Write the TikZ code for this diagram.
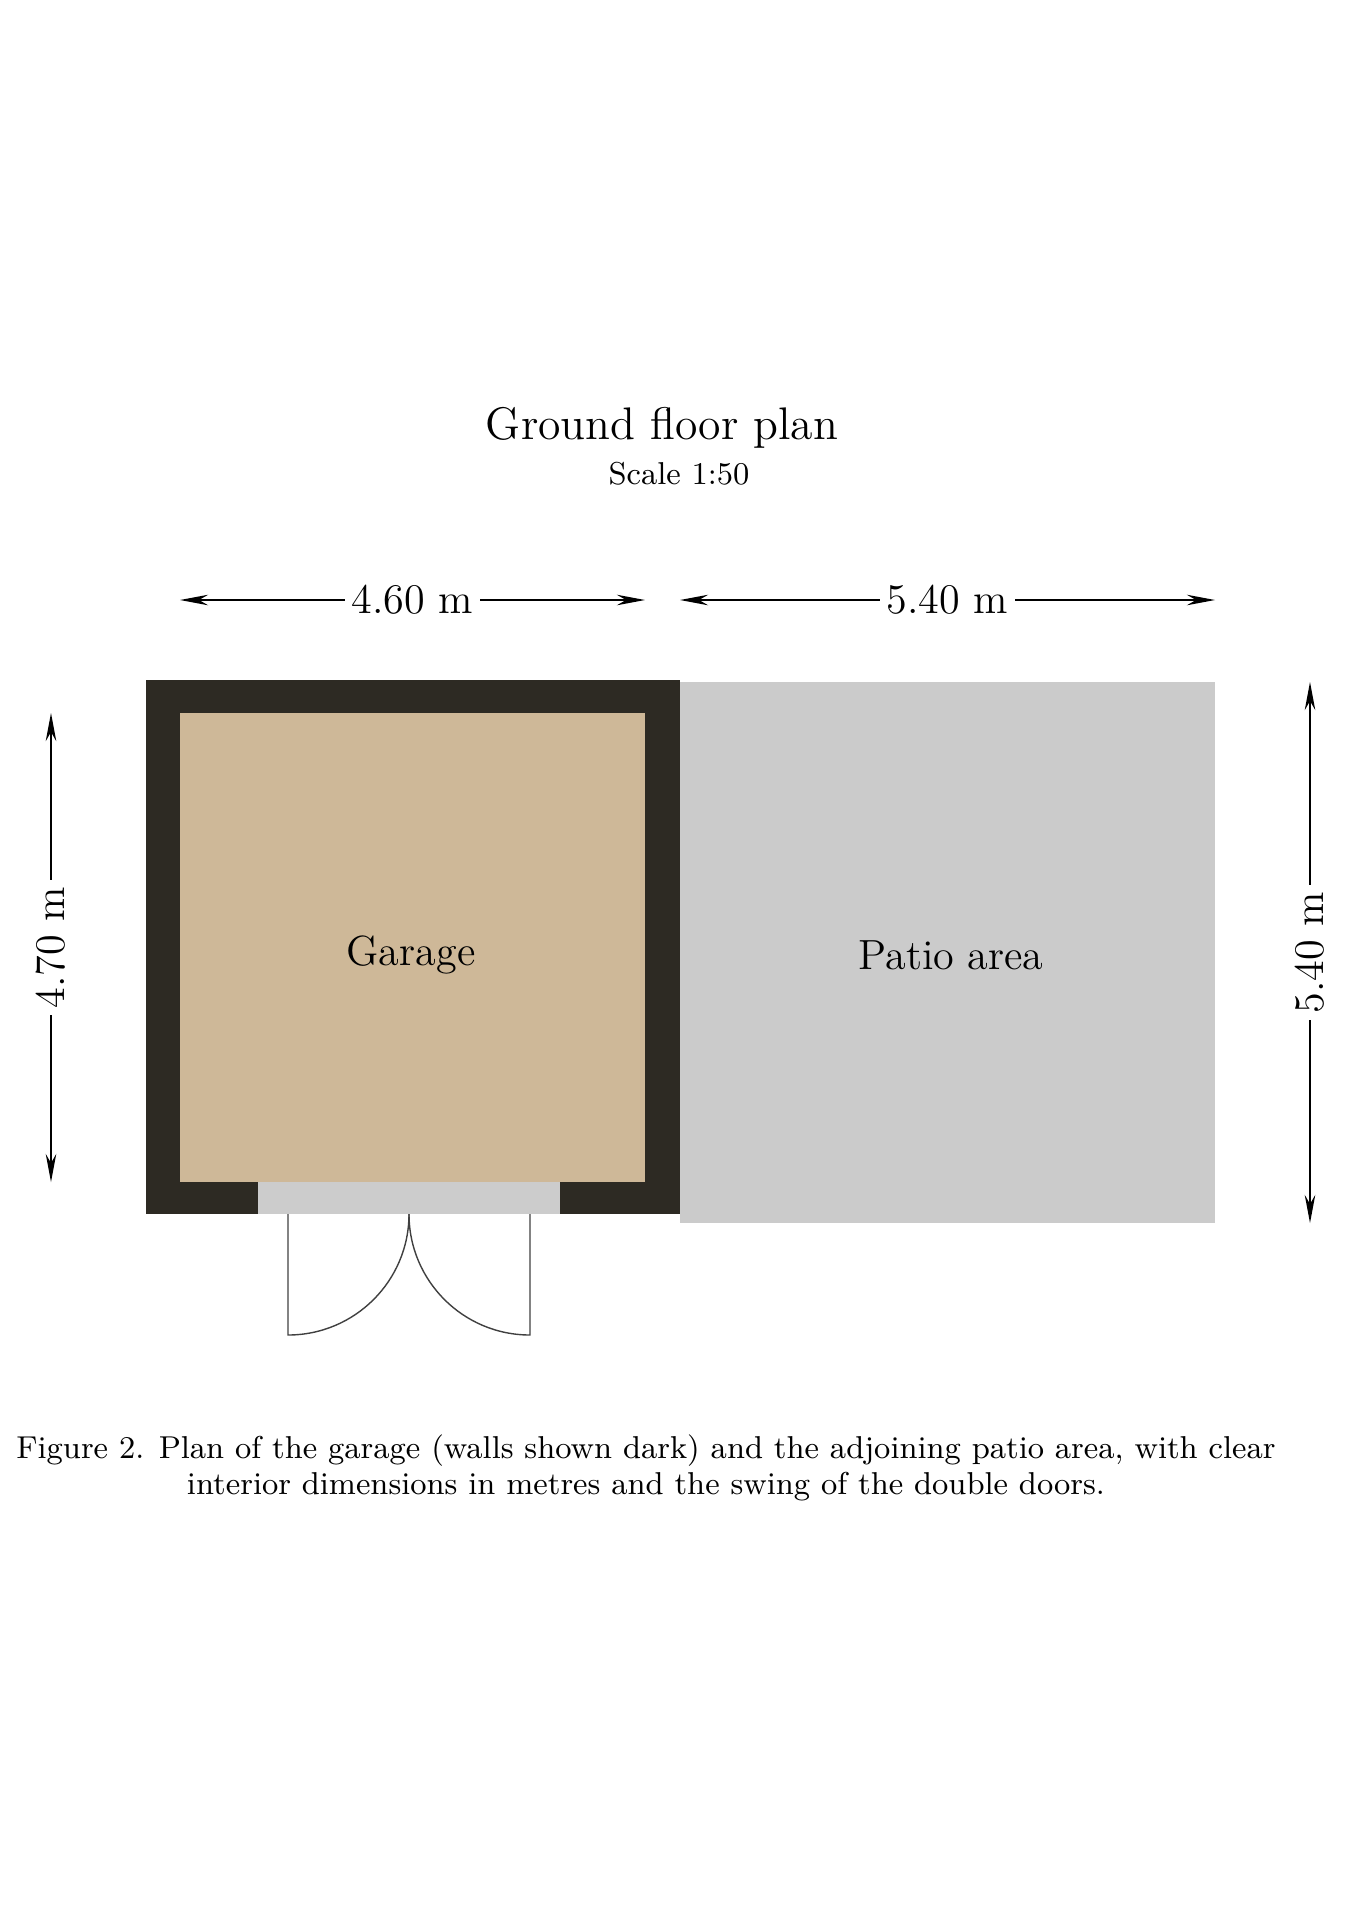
\documentclass[tikz,border=0pt]{standalone}
\usepackage{tikz}
\usetikzlibrary{arrows.meta}

\definecolor{roomtan}{RGB}{206,184,152}
\definecolor{walldark}{RGB}{45,42,35}
\definecolor{patiogrey}{RGB}{203,203,203}

\begin{document}
\begin{tikzpicture}[x=0.1mm, y=-0.1mm,
        dimline/.style={{Stealth[length=8pt,width=3pt]}-{Stealth[length=8pt,width=3pt]}, line width=0.4pt},
        dimlabel/.style={fill=white, inner sep=2pt, font=\fontsize{12}{14}\selectfont},
        roomlabel/.style={font=\fontsize{12}{14}\selectfont},
        doorline/.style={line width=0.4pt, black!75}]
        \useasboundingbox (0,0) rectangle (1358,1920);

        % Patio
        \fill[patiogrey] (680,682) rectangle (1215,1223);

        % Garage: walls, floor, door opening
        \fill[walldark] (146,680) rectangle (680,1214);
        \fill[roomtan] (180,713) rectangle (645,1182);
        \fill[black!20] (258,1182) rectangle (560,1214);

        % Door leaves and swings
        \coordinate (hingeL) at (288,1214);
        \coordinate (hingeR) at (530,1214);
        \coordinate (leafL) at (288,1335);
        \coordinate (leafR) at (530,1335);
        \draw[doorline] (hingeL) -- (leafL) arc[start angle=90, end angle=0, radius=121];
        \draw[doorline] (hingeR) -- (leafR) arc[start angle=90, end angle=180, radius=121];

        \node[roomlabel] (garage) at (411,955) {Garage};
        \node[roomlabel] (patio) at (951,955) {Patio area};

        % Dimensions
        \coordinate (gtopL) at (180,600);
        \coordinate (gtopR) at (645,600);
        \coordinate (ptopL) at (680,600);
        \coordinate (ptopR) at (1215,600);
        \coordinate (gsideT) at (51,713);
        \coordinate (gsideB) at (51,1182);
        \coordinate (psideT) at (1310,682);
        \coordinate (psideB) at (1310,1223);

        \draw[dimline] (gtopL) -- (gtopR) node[midway, dimlabel] (gwidth) {4.60 m};
        \draw[dimline] (ptopL) -- (ptopR) node[midway, dimlabel] (pwidth) {5.40 m};
        \draw[dimline] (gsideB) -- (gsideT) node[midway, dimlabel, rotate=90] (gdepth) {4.70 m};
        \draw[dimline] (psideB) -- (psideT) node[midway, dimlabel, rotate=90] (pdepth) {5.40 m};

        % Title and caption
        \node[font=\fontsize{13}{16}\selectfont] (title) at (662,428) {Ground floor plan};
        \node[font=\fontsize{9}{11}\selectfont] (scalenote) at (679,474) {Scale 1:50};
        \node[align=center, font=\fontsize{9}{10.2}\selectfont] (caption) at (646,1468)
            {Figure 2. Plan of the garage (walls shown dark) and the adjoining patio area, with clear\\
             interior dimensions in metres and the swing of the double doors.};

\end{tikzpicture}
\end{document}
